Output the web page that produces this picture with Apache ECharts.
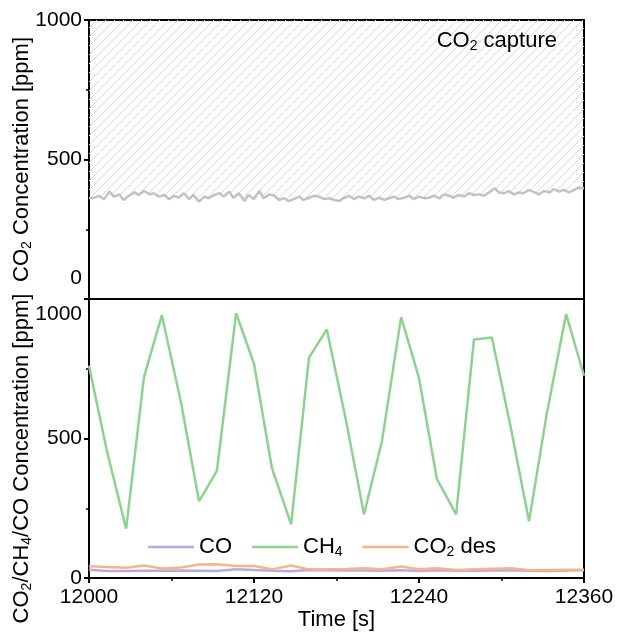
<!DOCTYPE html>
<html>
<head>
<meta charset="utf-8">
<script src="https://cdn.jsdelivr.net/npm/echarts@6/dist/echarts.min.js"></script>
<style>
  html, body { margin: 0; padding: 0; background: #fff; }
  #chart { width: 617px; height: 633px; }
</style>
</head>
<body>
<div id="chart"></div>
<script>
// top panel: CO2 during capture (noisy trace)
let captureTime = [
  12000, 12004, 12007, 12011, 12015, 12018, 12022, 12025, 12029, 12033,
  12036, 12040, 12044, 12047, 12051, 12055, 12058, 12062, 12065, 12069,
  12073, 12076, 12080, 12084, 12087, 12091, 12095, 12098, 12102, 12105,
  12109, 12113, 12116, 12120, 12124, 12127, 12131, 12135, 12138, 12142,
  12145, 12149, 12153, 12156, 12160, 12164, 12167, 12171, 12175, 12178,
  12182, 12185, 12189, 12193, 12196, 12200, 12204, 12207, 12211, 12215,
  12218, 12222, 12225, 12229, 12233, 12236, 12240, 12244, 12247, 12251,
  12255, 12258, 12262, 12265, 12269, 12273, 12276, 12280, 12284, 12287,
  12291, 12295, 12298, 12302, 12305, 12309, 12313, 12316, 12320, 12324,
  12327, 12331, 12335, 12338, 12342, 12345, 12349, 12353, 12356, 12360
];
let captureCO2 = [
  361, 363, 370, 358, 385, 367, 375, 355, 370, 382,
  373, 387, 375, 379, 367, 373, 358, 370, 363, 379,
  358, 373, 349, 367, 361, 373, 379, 367, 385, 363,
  379, 351, 373, 358, 387, 361, 375, 370, 355, 361,
  351, 358, 367, 355, 363, 370, 367, 358, 361, 355,
  351, 361, 370, 358, 367, 361, 370, 355, 363, 355,
  361, 367, 358, 363, 370, 358, 367, 361, 363, 370,
  361, 375, 370, 363, 373, 367, 379, 373, 375, 370,
  382, 397, 382, 379, 387, 375, 382, 379, 391, 382,
  375, 387, 382, 394, 385, 391, 382, 391, 399, 397
];

// bottom panel: desorption products
let desTime = [
  12000, 12013, 12027, 12040, 12053, 12067, 12080, 12093, 12107, 12120,
  12133, 12147, 12160, 12173, 12187, 12200, 12213, 12227, 12240, 12253,
  12267, 12280, 12293, 12307, 12320, 12333, 12347, 12360
];
let coVals = [
  30, 25, 25, 26, 26, 27, 26, 25, 31, 29,
  26, 24, 29, 28, 27, 27, 26, 28, 25, 28,
  26, 26, 27, 28, 26, 25, 27, 28
];
let ch4Vals = [
  761, 456, 177, 721, 942, 627, 275, 384, 949, 768,
  395, 192, 790, 891, 562, 228, 489, 935, 717, 355,
  228, 855, 862, 533, 203, 591, 946, 725
];
let co2DesVals = [
  42, 39, 37, 45, 34, 38, 48, 49, 43, 43,
  31, 45, 31, 31, 32, 35, 31, 41, 31, 35,
  29, 31, 33, 35, 28, 29, 30, 30
];
let xTicks = [12000, 12360, 120];
let yTicks = [0, 1000, 500];

function pairs(xs, ys) {
  return xs.map((x, i) => [x, ys[i]]);
}

// diagonal hatch for the capture region
let hatch = document.createElement("canvas");
hatch.width = 9;
hatch.height = 9;
let hc = hatch.getContext("2d");
hc.strokeStyle = "#d9d9d9";
hc.lineWidth = 1;
hc.beginPath();
hc.moveTo(-1, 10); hc.lineTo(10, -1);
hc.moveTo(-1, 1); hc.lineTo(1, -1);
hc.moveTo(8, 10); hc.lineTo(10, 8);
hc.stroke();

let font = "'Liberation Sans', Arial, sans-serif";
let txt = { fontSize: 22, color: "#000", fontFamily: font, fontWeight: "normal" };
let tick = { fontSize: 21, color: "#000", fontFamily: font };
let sub = { fontSize: 14, color: "#000", fontFamily: font, fontWeight: "normal", padding: [10, 0, 0, 0] };

let legendNames = { "CO": "{a|CO}", "CH4": "{a|CH}{s|4}", "CO2 des": "{a|CO}{s|2}{a| des}" };

let chart = echarts.init(document.getElementById("chart"));
let option = {
  animation: false,
  textStyle: { fontFamily: font },
  title: {
    text: "{a|CO}{s|2}{a| capture}",
    right: 55,
    top: 24,
    textStyle: { fontWeight: "normal", rich: { a: txt, s: sub } }
  },
  legend: {
    data: ["CO", "CH4", "CO2 des"],
    left: 143,
    top: 531,
    icon: "rect",
    itemWidth: 46,
    itemHeight: 2.5,
    itemGap: 20,
    formatter: n => legendNames[n],
    textStyle: { rich: { a: txt, s: sub } }
  },
  grid: [
    { left: 89, right: 33, top: 20, height: 279, outerBoundsMode: "none", show: true, borderColor: "#000", borderWidth: 2 },
    { left: 89, right: 33, top: 299, height: 279, outerBoundsMode: "none", show: true, borderColor: "#000", borderWidth: 2 }
  ],
  xAxis: [
    {
      type: "value", gridIndex: 0,
      min: xTicks[0], max: xTicks[1], interval: xTicks[2],
      axisLine: { lineStyle: { color: "#000", width: 2 } },
      axisTick: { show: false },
      axisLabel: { show: false },
      splitLine: { show: false }
    },
    {
      type: "value", gridIndex: 1,
      min: xTicks[0], max: xTicks[1], interval: xTicks[2],
      name: "Time [s]",
      nameLocation: "middle",
      nameGap: 31,
      nameMoveOverlap: false,
      nameTextStyle: txt,
      axisLine: { lineStyle: { color: "#000", width: 2 } },
      axisTick: { length: 5, lineStyle: { width: 2 } },
      minorTick: { show: true, splitNumber: 2, length: 3, lineStyle: { color: "#000", width: 1.5 } },
      axisLabel: Object.assign({ margin: 9, formatter: v => String(v) }, tick),
      splitLine: { show: false }
    }
  ],
  yAxis: [
    {
      type: "value", gridIndex: 0,
      min: yTicks[0], max: yTicks[1], interval: yTicks[2],
      name: "{a|CO}{s|2}{a| Concentration [ppm]}",
      nameLocation: "middle",
      nameGap: 55,
      nameMoveOverlap: false,
      nameTextStyle: { rich: { a: txt, s: sub } },
      axisLine: { lineStyle: { color: "#000", width: 2 } },
      axisTick: { length: 5, lineStyle: { width: 2 } },
      minorTick: { show: true, splitNumber: 2, length: 3, lineStyle: { color: "#000", width: 1.5 } },
      axisLabel: Object.assign({
        margin: 7,
        formatter: v => (v === 0 ? "{z|0}" : "{n|" + v + "}"),
        rich: { z: Object.assign({ padding: [0, 0, 42, 0] }, tick), n: tick }
      }, tick),
      splitLine: { show: false }
    },
    {
      type: "value", gridIndex: 1,
      min: yTicks[0], max: yTicks[1], interval: yTicks[2],
      name: "{a|CO}{s|2}{a|/CH}{s|4}{a|/CO Concentration [ppm]}",
      nameLocation: "middle",
      nameGap: 55,
      nameMoveOverlap: false,
      nameTextStyle: { rich: { a: txt, s: sub }, padding: [0, 40, 0, 0] },
      axisLine: { lineStyle: { color: "#000", width: 2 } },
      axisTick: { length: 5, lineStyle: { width: 2 } },
      minorTick: { show: true, splitNumber: 2, length: 3, lineStyle: { color: "#000", width: 1.5 } },
      axisLabel: Object.assign({
        margin: 7,
        formatter: v => (v === 1000 ? "{t|1000}" : "{n|" + v + "}"),
        rich: { t: Object.assign({ padding: [30, 0, 0, 0] }, tick), n: tick }
      }, tick),
      splitLine: { show: false }
    }
  ],
  series: [
    {
      name: "CO2 capture", type: "line", xAxisIndex: 0, yAxisIndex: 0,
      data: pairs(captureTime, captureCO2),
      symbol: "none",
      lineStyle: { color: "#c2c2c2", width: 2.5 },
      itemStyle: { color: "#c2c2c2" },
      areaStyle: { origin: "end", color: { image: hatch, repeat: "repeat" }, opacity: 1 }
    },
    {
      name: "CO", type: "line", xAxisIndex: 1, yAxisIndex: 1,
      data: pairs(desTime, coVals),
      symbol: "none",
      lineStyle: { color: "#bba9dd", width: 2.5 },
      itemStyle: { color: "#bba9dd" }
    },
    {
      name: "CH4", type: "line", xAxisIndex: 1, yAxisIndex: 1,
      data: pairs(desTime, ch4Vals),
      symbol: "none",
      lineStyle: { color: "#8fd18f", width: 2.5 },
      itemStyle: { color: "#8fd18f" }
    },
    {
      name: "CO2 des", type: "line", xAxisIndex: 1, yAxisIndex: 1,
      data: pairs(desTime, co2DesVals),
      symbol: "none",
      lineStyle: { color: "#f7b48a", width: 2.5 },
      itemStyle: { color: "#f7b48a" }
    }
  ]
};
chart.setOption(option);
</script>
</body>
</html>
